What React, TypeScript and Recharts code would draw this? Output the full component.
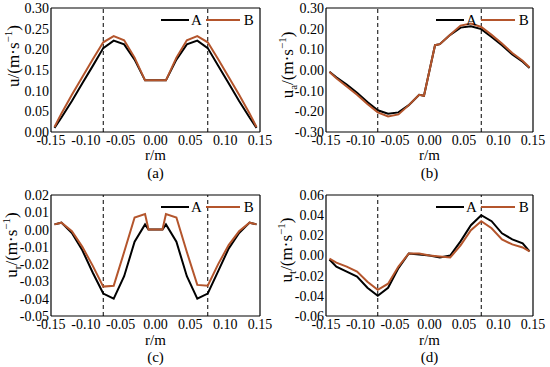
import React from "react";
import { LineChart, Line, XAxis, YAxis, ReferenceLine, Legend } from "recharts";

// radial positions (m)
const rGrid = [-0.145, -0.135, -0.12, -0.105, -0.09, -0.075, -0.06, -0.045, -0.03, -0.015, 0, 0.015, 0.03, 0.045, 0.06, 0.075, 0.09, 0.105, 0.12, 0.135, 0.145];
const rGridB = [-0.145, -0.135, -0.12, -0.105, -0.09, -0.075, -0.06, -0.045, -0.03, -0.015, -0.008, 0.008, 0.015, 0.03, 0.045, 0.06, 0.075, 0.09, 0.105, 0.12, 0.135, 0.145];
const rGridC = [-0.145, -0.135, -0.12, -0.105, -0.09, -0.075, -0.06, -0.045, -0.03, -0.015, -0.01, 0, 0.01, 0.015, 0.03, 0.045, 0.06, 0.075, 0.09, 0.105, 0.12, 0.135, 0.145];

// (a) u
const uA = [0.01, 0.035, 0.075, 0.118, 0.16, 0.203, 0.221, 0.212, 0.175, 0.125, 0.125, 0.125, 0.175, 0.212, 0.221, 0.203, 0.16, 0.118, 0.075, 0.035, 0.01];
const uB = [0.012, 0.045, 0.09, 0.133, 0.176, 0.217, 0.232, 0.222, 0.18, 0.125, 0.125, 0.125, 0.18, 0.222, 0.232, 0.217, 0.176, 0.133, 0.09, 0.045, 0.012];

// (b) ua
const uaA = [-0.008, -0.035, -0.07, -0.11, -0.155, -0.195, -0.212, -0.205, -0.17, -0.12, -0.125, 0.12, 0.125, 0.17, 0.205, 0.212, 0.198, 0.16, 0.12, 0.075, 0.04, 0.01];
const uaB = [-0.01, -0.04, -0.08, -0.12, -0.165, -0.205, -0.225, -0.215, -0.17, -0.12, -0.125, 0.12, 0.125, 0.17, 0.215, 0.225, 0.208, 0.17, 0.128, 0.082, 0.045, 0.012];

// (c) ur
const urA = [0.003, 0.004, -0.002, -0.012, -0.025, -0.037, -0.04, -0.027, -0.007, 0.003, 0.0, 0.0, 0.0, 0.003, -0.007, -0.027, -0.04, -0.037, -0.024, -0.011, -0.002, 0.004, 0.003];
const urB = [0.003, 0.004, -0.001, -0.01, -0.021, -0.033, -0.0325, -0.013, 0.007, 0.009, 0.0, 0.0, 0.0, 0.009, 0.007, -0.013, -0.032, -0.0325, -0.02, -0.009, -0.001, 0.004, 0.003];

// (d) ut
const utA = [-0.004, -0.011, -0.016, -0.021, -0.032, -0.04, -0.032, -0.0125, 0.002, 0.001, 0.0, -0.002, 0.0, 0.014, 0.03, 0.04, 0.034, 0.022, 0.016, 0.012, 0.004];
const utB = [-0.003, -0.007, -0.011, -0.016, -0.026, -0.034, -0.028, -0.011, 0.002, 0.002, 0.0, -0.001, -0.002, 0.01, 0.025, 0.034, 0.027, 0.016, 0.011, 0.008, 0.004];

const xTicks = [-0.15, -0.1, -0.05, 0, 0.05, 0.1, 0.15];
const yTicksA = [0, 0.05, 0.1, 0.15, 0.2, 0.25, 0.3];
const yTicksB = [-0.3, -0.2, -0.1, 0, 0.1, 0.2, 0.3];
const yTicksC = [-0.05, -0.04, -0.03, -0.02, -0.01, 0, 0.01, 0.02];
const yTicksD = [-0.06, -0.04, -0.02, 0, 0.02, 0.04, 0.06];
const dashX = [-0.075, 0.075];
const seriesNames = ["A", "B"];
const colorA = "#000000";
const colorB = "#b4552c";
const FONT = '"Liberation Serif", "Times New Roman", Times, serif';

const build = (r: number[], a: number[], b: number[]) =>
  r.map((x, i) => ({ r: x, A: a[i], B: b[i] }));

const fmt = (v: number) => (Math.abs(v) < 1e-9 ? "0.00" : v.toFixed(2));

const LegendBox = () => (
  <div style={{ display: "flex", alignItems: "center", fontSize: 15, color: "#000", fontFamily: FONT, lineHeight: "16px" }}>
    <svg width={28} height={4}><line x1={0} y1={2} x2={28} y2={2} stroke={colorA} strokeWidth={2} /></svg>
    <span style={{ marginLeft: 2, marginRight: 4 }}>{seriesNames[0]}</span>
    <svg width={34} height={4}><line x1={0} y1={2} x2={34} y2={2} stroke={colorB} strokeWidth={2} /></svg>
    <span style={{ marginLeft: 4 }}>{seriesNames[1]}</span>
  </div>
);

type PanelProps = {
  left: number;
  top: number;
  height: number;
  marginTop: number;
  marginBottom: number;
  marginRight: number;
  data: any[];
  yTicks: number[];
  sub: string;
  labelX: number;
  labelY: number;
  caption: string;
  rmY: number;
  capY: number;
};

const Panel = (p: PanelProps) => {
  const yMin = p.yTicks[0];
  const yMax = p.yTicks[p.yTicks.length - 1];
  const domain: [number, number] = [yMin, yMax];
  const yLabel = () => (
    <text
      transform={`translate(${p.labelX}, ${p.labelY}) rotate(-90)`}
      textAnchor="middle"
      fontSize={17}
      fill="#000"
      fontFamily={FONT}
    >
      u
      {p.sub ? (
        <>
          <tspan dy={4} fontSize={11}>{p.sub}</tspan>
          <tspan dy={-4}>/(m·s</tspan>
        </>
      ) : (
        <tspan>/(m·s</tspan>
      )}
      <tspan dy={-7} fontSize={11}>−1</tspan>
      <tspan dy={7}>)</tspan>
    </text>
  );
  return (
    <div style={{ position: "absolute", left: p.left, top: p.top, width: 275, height: p.height, fontFamily: FONT }}>
      <LineChart
        width={275}
        height={p.height}
        data={p.data}
        margin={{ top: p.marginTop, right: p.marginRight, bottom: p.marginBottom, left: 0 }}
        style={{ fontFamily: FONT }}
      >
        <XAxis
          dataKey="r"
          type="number"
          domain={[-0.15, 0.15]}
          ticks={xTicks}
          interval={0}
          tickFormatter={fmt}
          tickSize={0}
          tickMargin={3}
          height={20}
          tick={{ fill: "#000", fontSize: 14, fontFamily: FONT }}
          axisLine={{ stroke: "#000", strokeWidth: 1.2 }}
          allowDataOverflow
        />
        <YAxis
          type="number"
          domain={domain}
          ticks={p.yTicks}
          interval={0}
          tickFormatter={fmt}
          tickSize={0}
          tickMargin={2}
          width={51}
          tick={{ fill: "#000", fontSize: 14, fontFamily: FONT }}
          axisLine={{ stroke: "#000", strokeWidth: 1.2 }}
          label={{ content: yLabel }}
          allowDataOverflow
        />
        <ReferenceLine y={yMax} stroke="#000" strokeWidth={1.2} />
        <ReferenceLine x={0.15} stroke="#000" strokeWidth={1.2} />
        {dashX.map((x) => (
          <ReferenceLine key={x} x={x} stroke="#000" strokeWidth={1} strokeDasharray="4 3" />
        ))}
        <Legend
          verticalAlign="middle"
          align="center"
          layout="horizontal"
          content={() => <LegendBox />}
          wrapperStyle={{ position: "absolute", top: p.marginTop + 4, left: 161, width: "auto", height: "auto" }}
        />
        <Line type="linear" dataKey="A" stroke={colorA} strokeWidth={2} dot={false} isAnimationActive={false} />
        <Line type="linear" dataKey="B" stroke={colorB} strokeWidth={2} dot={false} isAnimationActive={false} />
      </LineChart>
      <div style={{ position: "absolute", left: 51, width: 275 - 51 - p.marginRight, top: p.rmY - 9, height: 18, lineHeight: "18px", textAlign: "center", fontSize: 15, color: "#000" }}>r/m</div>
      <div style={{ position: "absolute", left: 51, width: 275 - 51 - p.marginRight, top: p.capY - 9, height: 18, lineHeight: "18px", textAlign: "center", fontSize: 15, color: "#000" }}>{p.caption}</div>
    </div>
  );
};

export default function App() {
  return (
    <div style={{ position: "absolute", left: 0, top: 0, width: 550, height: 367, background: "#fff", fontFamily: FONT }}>
      <Panel left={0} top={0} height={183} marginTop={8} marginBottom={31} marginRight={15}
        data={build(rGrid, uA, uB)} yTicks={yTicksA} sub="" labelX={19} labelY={56} caption="(a)" rmY={155} capY={173} />
      <Panel left={275} top={0} height={183} marginTop={8} marginBottom={31} marginRight={17}
        data={build(rGridB, uaA, uaB)} yTicks={yTicksB} sub="a" labelX={18} labelY={65} caption="(b)" rmY={155} capY={173} />
      <Panel left={0} top={183} height={184} marginTop={12} marginBottom={31} marginRight={15}
        data={build(rGridC, urA, urB)} yTicks={yTicksC} sub="r" labelX={17} labelY={62} caption="(c)" rmY={157} capY={174} />
      <Panel left={275} top={183} height={184} marginTop={12} marginBottom={31} marginRight={17}
        data={build(rGrid, utA, utB)} yTicks={yTicksD} sub="t" labelX={17} labelY={67} caption="(d)" rmY={157} capY={174} />
    </div>
  );
}
